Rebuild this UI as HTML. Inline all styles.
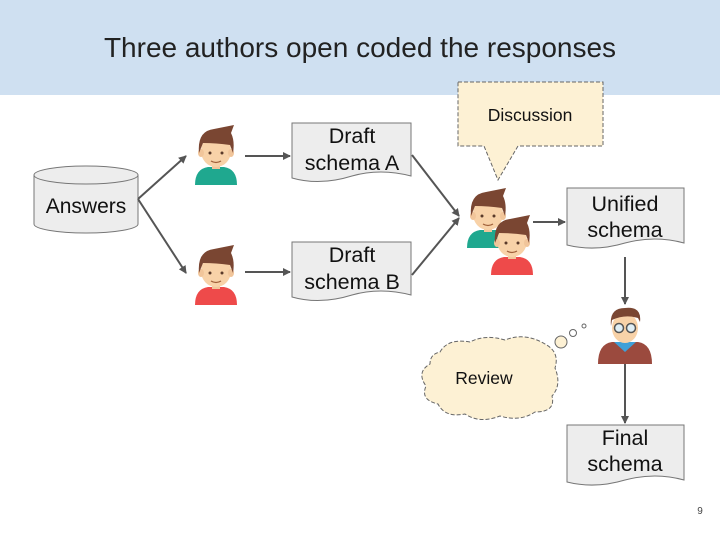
<!DOCTYPE html>
<html><head><meta charset="utf-8"><style>
html,body{margin:0;padding:0;background:#fff;}
svg{display:block;font-family:"Liberation Sans",Arial,sans-serif;}
</style></head><body>
<svg width="720" height="540" viewBox="0 0 720 540" xmlns="http://www.w3.org/2000/svg">
<defs>
<marker id="ah" markerWidth="8" markerHeight="8" refX="7" refY="4" orient="auto" markerUnits="userSpaceOnUse">
<path d="M0,0 L8,4 L0,8 z" fill="#555"/></marker>
<g id="boy">
<path d="M-21,30 Q-21,14 -8,12 L8,12 Q21,14 21,30 Z"/>
<rect x="-4" y="6" width="8" height="8" fill="#f1c59a"/>
<ellipse cx="0" cy="-4" rx="15" ry="16" fill="#f8d2a8"/>
<ellipse cx="-15" cy="-2" rx="3" ry="4" fill="#f1c59a"/>
<ellipse cx="15" cy="-2" rx="3" ry="4" fill="#f1c59a"/>
<path d="M-17,-2 Q-19,-24 -2,-26 L18,-30 L15,-22 Q19,-14 17,-2 L14,-10 Q0,-12 -13,-12 Z" fill="#7a4632"/>
<circle cx="-6" cy="-2" r="1.5" fill="#5a3a2a"/><circle cx="6" cy="-2" r="1.5" fill="#5a3a2a"/>
<path d="M-5,6 Q0,9 5,6" stroke="#a0603a" stroke-width="1.3" fill="none"/>
</g>
</defs>
<rect x="0" y="0" width="720" height="95" fill="#cfe0f1"/>
<text x="360" y="57" font-size="28" text-anchor="middle" fill="#222">Three authors open coded the responses</text>

<!-- cylinder -->
<path d="M34,175 L34,224 A52,9 0 0 0 138,224 L138,175" fill="#ededed" stroke="#777"/>
<ellipse cx="86" cy="175" rx="52" ry="9" fill="#ededed" stroke="#777"/>
<text x="86" y="213" font-size="21" text-anchor="middle" fill="#111">Answers</text>

<!-- arrows -->
<g stroke="#555" stroke-width="2" fill="none" marker-end="url(#ah)">
<line x1="138" y1="199" x2="186" y2="156"/>
<line x1="138" y1="199" x2="186" y2="273"/>
<line x1="245" y1="156" x2="290" y2="156"/>
<line x1="245" y1="272" x2="290" y2="272"/>
<line x1="412" y1="155" x2="459" y2="216"/>
<line x1="412" y1="275" x2="459" y2="218"/>
<line x1="533" y1="222" x2="565" y2="222"/>
<line x1="625" y1="257" x2="625" y2="304"/>
<line x1="625" y1="364" x2="625" y2="423"/>
</g>

<!-- documents -->
<g fill="#ededed" stroke="#777" stroke-width="1">
<path d="M292,123 L411,123 L411,176 Q380,168 352,176 Q320,186 292,178 Z"/>
<path d="M292,242 L411,242 L411,295 Q380,287 352,295 Q320,305 292,297 Z"/>
<path d="M567,188 L684,188 L684,243 Q655,235 625,243 Q595,252 567,245 Z"/>
<path d="M567,425 L684,425 L684,480 Q655,472 625,480 Q595,489 567,482 Z"/>
</g>
<g font-size="21.5" text-anchor="middle" fill="#111">
<text x="352" y="143">Draft</text><text x="352" y="170">schema A</text>
<text x="352" y="262">Draft</text><text x="352" y="289">schema B</text>
<text x="625" y="211">Unified</text><text x="625" y="237">schema</text>
<text x="625" y="445">Final</text><text x="625" y="471">schema</text>
</g>

<!-- discussion callout -->
<path d="M458,82 L603,82 L603,146 L518,146 L498,180 L484,146 L458,146 Z" fill="#fdf1d4" stroke="#666" stroke-dasharray="4,2"/>
<text x="530" y="121" font-size="17.5" text-anchor="middle" fill="#111">Discussion</text>

<!-- cloud -->
<path d="M440,352 Q448,338 470,342 Q485,334 505,340 Q525,332 545,344 Q560,352 555,368 Q562,385 552,396 Q556,412 535,412 Q520,422 500,416 Q480,424 465,414 Q445,418 438,404 Q420,400 426,386 Q416,372 430,364 Q430,354 440,352 Z" fill="#fdf1d4" stroke="#666" stroke-dasharray="4,2"/>
<circle cx="561" cy="342" r="6" fill="#fdf1d4" stroke="#666"/>
<circle cx="573" cy="333" r="3.5" fill="#fff" stroke="#666"/>
<circle cx="584" cy="326" r="2" fill="#fff" stroke="#666"/>
<text x="484" y="384" font-size="17.5" text-anchor="middle" fill="#111">Review</text>

<!-- people -->
<use href="#boy" x="216" y="155" fill="#1fa88f"/>
<use href="#boy" x="216" y="275" fill="#ee4a4a"/>
<use href="#boy" x="488" y="218" fill="#1fa88f"/>
<use href="#boy" x="512" y="245" fill="#ee4a4a"/>

<!-- reviewer -->
<g>
<path d="M598,364 Q598,344 612,342 L638,342 Q652,344 652,364 Z" fill="#9b4a3e"/>
<path d="M614,342 L625,352 L636,342 Z" fill="#3fa0d8"/>
<ellipse cx="625" cy="328" rx="13" ry="15" fill="#f8d2a8"/>
<path d="M611,326 Q609,308 625,308 Q642,306 640,322 L638,318 Q625,314 612,320 Z" fill="#7a4632"/>
<circle cx="619" cy="328" r="4.5" fill="#dfeef5" stroke="#555" stroke-width="1.5"/>
<circle cx="631" cy="328" r="4.5" fill="#dfeef5" stroke="#555" stroke-width="1.5"/>
</g>

<text x="700" y="514" font-size="10" text-anchor="middle" fill="#444">9</text>
</svg>
</body></html>
